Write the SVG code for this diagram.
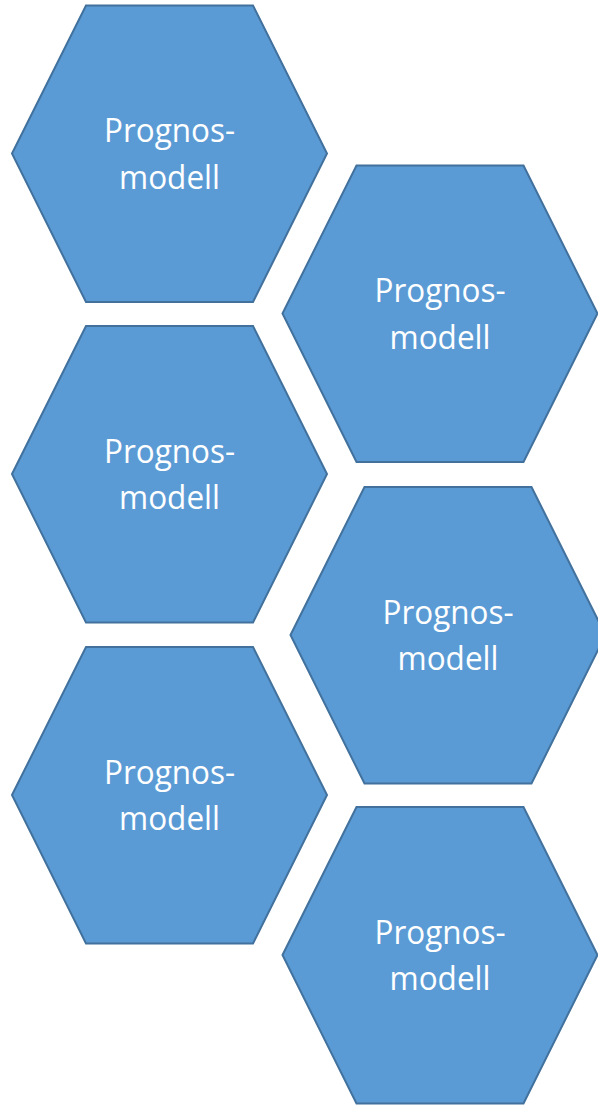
<svg xmlns="http://www.w3.org/2000/svg" width="598" height="1105" viewBox="0 0 598 1105">
<style>
.hex{fill:#5B9BD5;stroke:#41719C;stroke-width:2;stroke-linejoin:miter}
.t{font-family:"Open Sans","Noto Sans","Liberation Sans",sans-serif;font-size:32px;fill:#ffffff;text-anchor:middle}
</style>
<defs>
<polygon id="hx" points="0,148 74,0 241,0 315,148 241,296.5 74,296.5"/>
</defs>
<rect width="598" height="1105" fill="#ffffff"/>
<g id="connectors"></g>
<g id="n1" transform="translate(12,5.5)">
<use href="#hx" class="hex"/>
<text class="t" x="157.5" y="136.5" textLength="131" lengthAdjust="spacingAndGlyphs">Prognos-</text>
<text class="t" x="157.5" y="183" textLength="101" lengthAdjust="spacingAndGlyphs">modell</text>
</g>
<g id="n2" transform="translate(282.5,165.5)">
<use href="#hx" class="hex"/>
<text class="t" x="157.5" y="136.5" textLength="131" lengthAdjust="spacingAndGlyphs">Prognos-</text>
<text class="t" x="157.5" y="183" textLength="101" lengthAdjust="spacingAndGlyphs">modell</text>
</g>
<g id="n3" transform="translate(12,326)">
<use href="#hx" class="hex"/>
<text class="t" x="157.5" y="136.5" textLength="131" lengthAdjust="spacingAndGlyphs">Prognos-</text>
<text class="t" x="157.5" y="183" textLength="101" lengthAdjust="spacingAndGlyphs">modell</text>
</g>
<g id="n4" transform="translate(290.5,487)">
<use href="#hx" class="hex"/>
<text class="t" x="157.5" y="136.5" textLength="131" lengthAdjust="spacingAndGlyphs">Prognos-</text>
<text class="t" x="157.5" y="183" textLength="101" lengthAdjust="spacingAndGlyphs">modell</text>
</g>
<g id="n5" transform="translate(12,647)">
<use href="#hx" class="hex"/>
<text class="t" x="157.5" y="136.5" textLength="131" lengthAdjust="spacingAndGlyphs">Prognos-</text>
<text class="t" x="157.5" y="183" textLength="101" lengthAdjust="spacingAndGlyphs">modell</text>
</g>
<g id="n6" transform="translate(282.5,807)">
<use href="#hx" class="hex"/>
<text class="t" x="157.5" y="136.5" textLength="131" lengthAdjust="spacingAndGlyphs">Prognos-</text>
<text class="t" x="157.5" y="183" textLength="101" lengthAdjust="spacingAndGlyphs">modell</text>
</g>
</svg>
